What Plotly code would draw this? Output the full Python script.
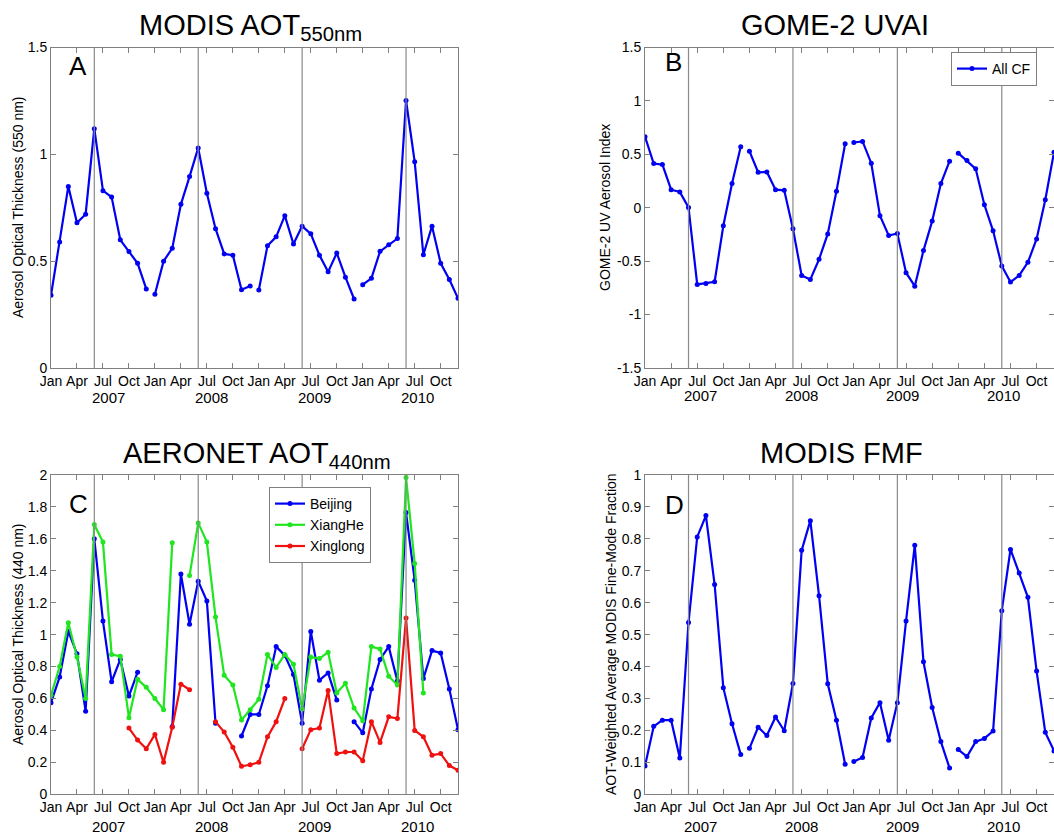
import plotly.graph_objects as go
from plotly.subplots import make_subplots

# ---------------------------------------------------------
# data (monthly values, Jan..Dec for four years)
# ---------------------------------------------------------
month_ticks = ["Jan", "Apr", "Jul", "Oct"] * 4
years = ["2007", "2008", "2009", "2010"]

modis_aot = [0.34, 0.59, 0.85, 0.68, 0.72, 1.12, 0.83, 0.80, 0.60, 0.545, 0.49, 0.37,
             0.345, 0.50, 0.56, 0.766, 0.896, 1.03, 0.818, 0.652, 0.534, 0.528, 0.366, 0.384,
             0.365, 0.572, 0.614, 0.713, 0.58, 0.664, 0.628, 0.528, 0.45, 0.538, 0.425, 0.323,
             0.39, 0.42, 0.546, 0.577, 0.606, 1.252, 0.965, 0.53, 0.664, 0.49, 0.414, 0.326]

gome_uvai = [0.665, 0.414, 0.404, 0.169, 0.147, 0.003, -0.718, -0.708, -0.693, -0.169, 0.226, 0.571,
             0.53, 0.332, 0.335, 0.169, 0.163, -0.197, -0.633, -0.671, -0.483, -0.245, 0.154, 0.599,
             0.611, 0.621, 0.417, -0.075, -0.26, -0.241, -0.608, -0.734, -0.401, -0.125, 0.226, 0.436,
             0.511, 0.442, 0.364, 0.028, -0.216, -0.545, -0.696, -0.633, -0.511, -0.292, 0.075, 0.52]

beijing = [0.574, 0.735, 1.02, 0.88, 0.52, 1.60, 1.085, 0.705, 0.845, 0.615, 0.765, None,
           None, None, 0.425, 1.38, 1.065, 1.335, 1.21, 0.445, None, None, 0.365, 0.50,
           0.50, 0.68, 0.925, 0.87, 0.75, 0.445, 1.02, 0.715, 0.76, 0.59, None, 0.455,
           0.385, 0.66, 0.845, 0.925, 0.71, 1.765, 1.34, 0.725, 0.90, 0.885, 0.66, 0.405]

xianghe = [0.62, 0.80, 1.075, 0.86, 0.60, 1.69, 1.58, 0.875, 0.865, 0.48, 0.72, 0.67,
           0.60, 0.53, 1.575, None, 1.37, 1.70, 1.58, 1.11, 0.745, 0.685, 0.465, 0.53,
           0.595, 0.875, 0.795, 0.875, 0.815, 0.535, 0.86, 0.85, 0.89, 0.635, 0.695, 0.54,
           0.46, 0.925, 0.91, 0.74, 0.685, 1.985, 1.445, 0.635, None, None, None, None]

xinglong = [None, None, None, None, None, None, None, None, None, 0.415, 0.34, 0.285,
            0.375, 0.20, 0.42, 0.69, 0.655, None, None, 0.455, 0.39, 0.295, 0.175, 0.185,
            0.20, 0.36, 0.455, 0.60, None, 0.285, 0.405, 0.415, 0.65, 0.255, 0.265, 0.265,
            0.21, 0.455, 0.325, 0.485, 0.475, 1.105, 0.40, 0.36, 0.245, 0.255, 0.18, 0.15]

modis_fmf = [0.089, 0.213, 0.232, 0.232, 0.114, 0.538, 0.806, 0.873, 0.657, 0.334, 0.221, 0.125,
             0.144, 0.21, 0.184, 0.242, 0.199, 0.347, 0.764, 0.857, 0.622, 0.346, 0.232, 0.094,
             0.103, 0.115, 0.239, 0.287, 0.169, 0.287, 0.543, 0.78, 0.415, 0.272, 0.165, 0.082,
             0.14, 0.118, 0.165, 0.175, 0.198, 0.575, 0.767, 0.693, 0.617, 0.386, 0.194, 0.136]

months = list(range(len(modis_aot)))


# each year drawn as its own segment
def by_year(vals):
    xs, ys = [], []
    for i, v in enumerate(vals):
        if i and i % 12 == 0:
            xs.append(None)
            ys.append(None)
        xs.append(i)
        ys.append(v)
    return xs, ys


BLUE = "#0000f2"
GREEN = "#1fe61f"
RED = "#f01010"
FONT = "Liberation Sans, Arial, sans-serif"

fig = make_subplots(rows=2, cols=2)

def line(xs, ys, color, name, row, col, legend=None):
    fig.add_trace(go.Scatter(
        x=xs, y=ys, mode="lines+markers", name=name,
        line=dict(color=color, width=2.2),
        marker=dict(color=color, size=5),
        showlegend=legend is not None, legend=legend or "legend",
    ), row=row, col=col)

xa, ya = by_year(modis_aot)
line(xa, ya, BLUE, "MODIS", 1, 1)
xb, yb = by_year(gome_uvai)
line(xb, yb, BLUE, "All CF", 1, 2, legend="legend")
line(months, beijing, BLUE, "Beijing", 2, 1, legend="legend2")
line(months, xianghe, GREEN, "XiangHe", 2, 1, legend="legend2")
line(months, xinglong, RED, "Xinglong", 2, 1, legend="legend2")
xd, yd = by_year(modis_fmf)
line(xd, yd, BLUE, "FMF", 2, 2)

# ---------------------------------------------------------
# axes
# ---------------------------------------------------------
W, H = 1054, 837
frame = dict(showline=True, linecolor="#808080", linewidth=1, mirror="ticks",
             ticks="inside", ticklen=5, tickcolor="#808080", showgrid=False,
             zeroline=False, automargin=False,
             tickfont=dict(size=14, color="black", family=FONT))

xdom_left = [51 / W, 458 / W]
xdom_right = [645 / W, 1.0]
ydom_top = [1 - 368 / H, 1 - 47.5 / H]
ydom_bot = [1 - 794.3 / H, 1 - 475 / H]

def yticks(lo, hi, step):
    n = int(round((hi - lo) / step))
    vals = [round(lo + k * step, 2) for k in range(n + 1)]
    return dict(tickmode="array", tickvals=vals, ticktext=[f"{v:g}" for v in vals], range=[lo, hi])

xcommon = dict(frame, tickmode="array", tickvals=months[::3], ticktext=month_ticks, range=[0, 47])

fig.update_layout(
    xaxis=dict(xcommon, domain=xdom_left),
    xaxis2=dict(xcommon, domain=xdom_right),
    xaxis3=dict(xcommon, domain=xdom_left),
    xaxis4=dict(xcommon, domain=xdom_right),
    yaxis=dict(frame, domain=ydom_top, **yticks(0, 1.5, 0.5)),
    yaxis2=dict(frame, domain=ydom_top, **yticks(-1.5, 1.5, 0.5)),
    yaxis3=dict(frame, domain=ydom_bot, **yticks(0, 2, 0.2)),
    yaxis4=dict(frame, domain=ydom_bot, **yticks(0, 1, 0.1)),
)

# gray year-change lines (June)
for ax in ["", "2", "3", "4"]:
    for k in range(4):
        fig.add_shape(type="line", xref="x" + ax, yref=f"y{ax} domain",
                      x0=5 + 12 * k, x1=5 + 12 * k, y0=0, y1=1,
                      line=dict(color="#8a8a8a", width=1.2))

# ---------------------------------------------------------
# texts
# ---------------------------------------------------------
ann = []
titles = [("MODIS AOT<sub>550nm</sub>", 250, 27), ("GOME-2 UVAI", 835, 25),
          ("AERONET AOT<sub>440nm</sub>", 257, 455), ("MODIS FMF", 841, 453)]
for txt, px, py in titles:
    ann.append(dict(text=txt, x=px / W, y=1 - py / H, xref="paper", yref="paper",
                    xanchor="center", yanchor="middle", showarrow=False,
                    font=dict(size=29, color="black", family=FONT)))

letters = [("A", 67, 66), ("B", 663, 62), ("C", 67, 504), ("D", 663, 505)]
for txt, px, py in letters:
    ann.append(dict(text=txt, x=px / W, y=1 - py / H, xref="paper", yref="paper",
                    xanchor="left", yanchor="middle", showarrow=False,
                    font=dict(size=26, color="black", family=FONT)))

ytitles = [("Aerosol Optical Thickness (550 nm)", 18, 207),
           ("GOME-2 UV Aerosol Index", 605, 208),
           ("Aerosol Optical Thickness (440 nm)", 18, 634),
           ("AOT-Weighted Average MODIS Fine-Mode Fraction", 611, 634)]
for txt, px, py in ytitles:
    ann.append(dict(text=txt, x=px / W, y=1 - py / H, xref="paper", yref="paper",
                    xanchor="center", yanchor="middle", textangle=-90, showarrow=False,
                    font=dict(size=14, color="black", family=FONT)))

# year labels under the month ticks
for ax, x0, step, shift in [("", 6.6, 11.9, -29), ("2", 6.4, 11.6, -27),
                            ("3", 6.6, 11.9, -32), ("4", 6.4, 11.6, -32)]:
    for k, yr in enumerate(years):
        ann.append(dict(text=yr, x=x0 + step * k, y=0, xref="x" + ax, yref=f"y{ax} domain",
                        xanchor="center", yanchor="middle", yshift=shift, showarrow=False,
                        font=dict(size=15, color="black", family=FONT)))

fig.update_layout(
    annotations=ann,
    width=W, height=H,
    margin=dict(l=0, r=0, t=0, b=0),
    plot_bgcolor="white", paper_bgcolor="white",
    font=dict(family=FONT, color="black"),
    legend=dict(x=1037 / W, y=1 - 52 / H, xanchor="right", yanchor="top",
                bordercolor="#808080", borderwidth=1, bgcolor="white",
                font=dict(size=14), itemwidth=30, tracegroupgap=0),
    legend2=dict(x=269 / W, y=1 - 487 / H, xanchor="left", yanchor="top",
                 bordercolor="#808080", borderwidth=1, bgcolor="white",
                 font=dict(size=14), itemwidth=30, tracegroupgap=0),
)

# drop the page's default body margin so the figure sits at the window corner
fig.write_html("out.html", config={"displayModeBar": False},
               post_script="document.body.style.margin = '0';")
